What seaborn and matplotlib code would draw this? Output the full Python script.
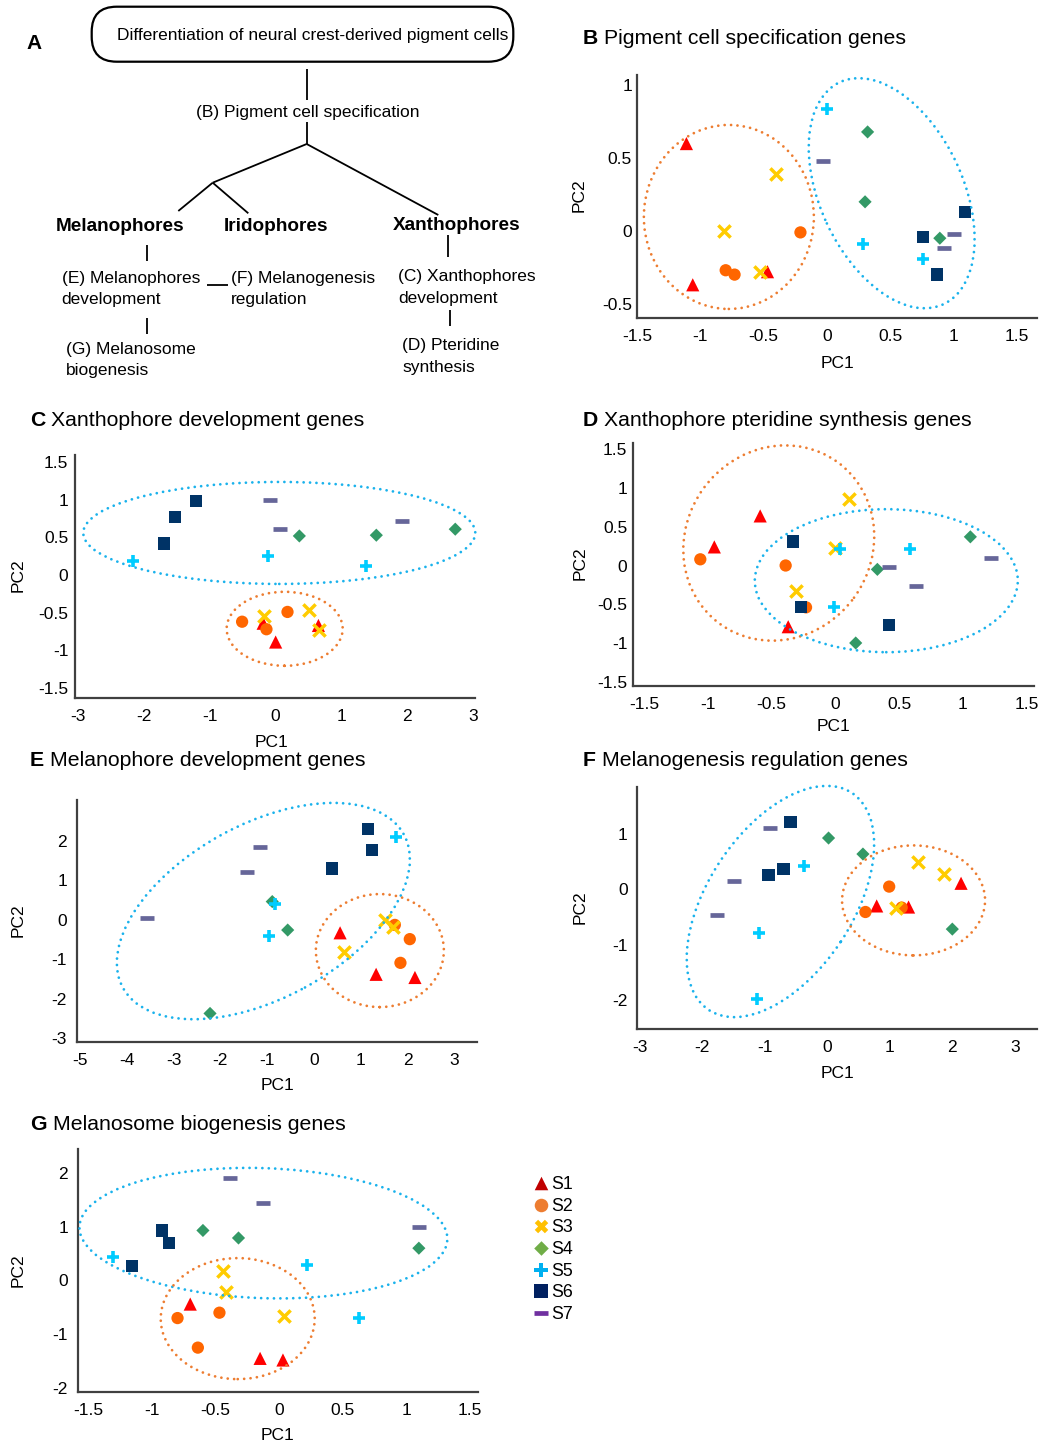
import matplotlib
matplotlib.use("Agg")
import matplotlib.pyplot as plt
import seaborn as sns
import pandas as pd
from matplotlib.patches import Ellipse, FancyBboxPatch
from matplotlib import transforms
from matplotlib.ticker import FixedLocator, FuncFormatter

# ---------------- data ----------------
SAMPLES = ["S1", "S2", "S3", "S4", "S5", "S6", "S7"]
REPS = 3  # three replicates per sample, listed S1..S7

B_PC1 = [-1.11, -1.06, -0.47, -0.80, -0.73, -0.21, -0.40, -0.81, -0.53, 0.32, 0.30, 0.89, 0.00, 0.28, 0.76, 1.09, 0.76, 0.87, -0.03, 1.00, 0.92]
B_PC2 = [0.60, -0.37, -0.28, -0.27, -0.30, -0.01, 0.39, 0.00, -0.28, 0.68, 0.20, -0.05, 0.84, -0.09, -0.19, 0.13, -0.04, -0.30, 0.48, -0.02, -0.12]

C_PC1 = [0.00, -0.19, 0.65, -0.51, -0.14, 0.18, -0.18, 0.51, 0.66, 0.36, 1.53, 2.73, -2.17, -0.11, 1.37, -1.70, -1.53, -1.21, -0.09, 0.06, 1.92]
C_PC2 = [-0.89, -0.64, -0.67, -0.62, -0.72, -0.49, -0.55, -0.47, -0.73, 0.52, 0.53, 0.61, 0.19, 0.25, 0.12, 0.42, 0.77, 0.98, 1.00, 0.61, 0.72]

D_PC1 = [-0.95, -0.59, -0.37, -1.06, -0.39, -0.23, 0.11, 0.00, -0.31, 1.06, 0.33, 0.16, 0.04, 0.59, -0.01, -0.33, -0.27, 0.42, 0.42, 0.63, 1.22]
D_PC2 = [0.24, 0.64, -0.79, 0.08, 0.00, -0.54, 0.86, 0.22, -0.33, 0.37, -0.05, -1.00, 0.21, 0.21, -0.53, 0.31, -0.54, -0.77, -0.02, -0.26, 0.10]

E_PC1 = [0.56, 1.33, 2.16, 1.73, 2.05, 1.85, 1.52, 1.70, 0.65, -0.89, -0.56, -2.22, -0.83, -0.96, 1.75, 1.15, 1.24, 0.38, -3.57, -1.42, -1.15]
E_PC2 = [-0.33, -1.38, -1.46, -0.13, -0.49, -1.09, 0.00, -0.19, -0.82, 0.46, -0.26, -2.37, 0.39, -0.40, 2.10, 2.29, 1.77, 1.30, 0.05, 1.22, 1.84]

F_PC1 = [0.79, 1.30, 2.14, 0.99, 0.61, 1.19, 1.45, 1.86, 1.10, 0.02, 0.57, 2.00, -0.37, -1.10, -1.12, -0.59, -0.70, -0.94, -0.92, -1.49, -1.77]
F_PC2 = [-0.30, -0.32, 0.11, 0.05, -0.41, -0.33, 0.50, 0.28, -0.34, 0.93, 0.64, -0.72, 0.43, -0.79, -1.98, 1.22, 0.37, 0.26, 1.12, 0.15, -0.46]

G_PC1 = [-0.70, -0.15, 0.03, -0.80, -0.47, -0.64, -0.44, -0.42, 0.04, -0.60, -0.32, 1.10, -1.31, 0.22, 0.63, -0.92, -0.87, -1.16, -0.39, -0.13, 1.10]
G_PC2 = [-0.44, -1.45, -1.48, -0.70, -0.60, -1.25, 0.18, -0.21, -0.67, 0.93, 0.79, 0.60, 0.44, 0.29, -0.69, 0.93, 0.69, 0.27, 1.90, 1.45, 1.00]

TITLES = {
    "B": "Pigment cell specification genes",
    "C": "Xanthophore development genes",
    "D": "Xanthophore pteridine synthesis genes",
    "E": "Melanophore development genes",
    "F": "Melanogenesis regulation genes",
    "G": "Melanosome biogenesis genes",
}

# cluster ellipses: centre (data units), width/height (pixels), angle (deg)
ELLIPSES = {
    "B": [(-0.775, 0.096, 170, 184, 0, "orange"), (0.51, 0.259, 245, 143, -65, "cyan")],
    "C": [(0.055, 0.56, 392, 102, 0, "cyan"), (0.137, -0.714, 116, 74, 0, "orange")],
    "D": [(-0.444, 0.29, 200, 186, 54, "orange"), (0.40, -0.196, 263, 143, 0, "cyan")],
    "E": [(-1.08, 0.22, 320, 174, 28.6, "cyan"), (1.41, -0.78, 128, 113, 0, "orange")],
    "F": [(-0.75, -0.22, 260, 145, 56.6, "cyan"), (1.38, -0.20, 143, 110, 0, "orange")],
    "G": [(-0.124, 0.88, 368, 130, -2, "cyan"), (-0.326, -0.71, 154, 121, 0, "orange")],
}

PANEL_DATA = {"B": (B_PC1, B_PC2), "C": (C_PC1, C_PC2), "D": (D_PC1, D_PC2),
              "E": (E_PC1, E_PC2), "F": (F_PC1, F_PC2), "G": (G_PC1, G_PC2)}

rows = []
for p, (xs, ys) in PANEL_DATA.items():
    for i, (x, y) in enumerate(zip(xs, ys)):
        rows.append({"panel": p, "sample": SAMPLES[i // REPS], "PC1": x, "PC2": y})
df = pd.DataFrame(rows)

# ---------------- style ----------------
sns.set_theme(style="white")
plt.rcParams["font.family"] = ["Liberation Sans", "DejaVu Sans"]
plt.rcParams["axes.unicode_minus"] = False
plt.rcParams["text.color"] = "black"

PLOT_COLORS = {"S1": "#FF0000", "S2": "#FF6600", "S3": "#FFCC00", "S4": "#339966",
               "S5": "#00CCFF", "S6": "#003366", "S7": "#666699"}
LEG_COLORS = {"S1": "#C00000", "S2": "#ED7D31", "S3": "#FFC000", "S4": "#70AD47",
              "S5": "#00B0F0", "S6": "#002060", "S7": "#7030A0"}
MARKERS = {"S1": "^", "S2": "o", "S3": "x", "S4": "D", "S5": "+", "S6": "s", "S7": "_"}
SIZES = {"S1": 90, "S2": 78, "S3": 78, "S4": 45, "S5": 85, "S6": 78, "S7": 90}
LWS = {"S3": 2.5, "S5": 2.6, "S7": 3.4}
ELL_COLORS = {"orange": "#ED7D31", "cyan": "#1AB2EC"}

DY = 1.5  # small vertical text correction (px)

FW, FH = 1039, 1443
fig = plt.figure(figsize=(FW / 100, FH / 100), dpi=100)
fig.patch.set_facecolor("white")
ax0 = fig.add_axes([0, 0, 1, 1])
ax0.set_xlim(0, FW)
ax0.set_ylim(FH, 0)
ax0.axis("off")
ax0.set_zorder(0)
renderer = fig.canvas.get_renderer()

# ---------------- panel A (diagram) ----------------
box = FancyBboxPatch((91.7, 6.7), 421.6, 55, boxstyle="round,pad=0,rounding_size=25",
                     fill=False, edgecolor="black", lw=1.6)
ax0.add_patch(box)
ax0.text(34, 42 + DY, "A", fontsize=15, fontweight="bold", ha="center", va="center")
ax0.text(313, 34 + DY, "Differentiation of neural crest-derived pigment cells", fontsize=12.5,
         ha="center", va="center")
ax0.text(307.5, 111.5 + DY, "(B) Pigment cell specification", fontsize=12.5, ha="center", va="center")
segs = [((306.7, 69), (306.7, 100)), ((306.7, 121.7), (306.7, 144)),
        ((306.7, 144), (212.7, 182.7)), ((306.7, 144), (438.3, 215)),
        ((212.7, 182.7), (178.3, 211)), ((212.7, 182.7), (248.3, 213.3)),
        ((146.7, 245), (146.7, 260.7)), ((207, 285), (228.3, 285)),
        ((146.7, 318), (146.7, 334)), ((448.3, 235), (448.3, 257)),
        ((450, 310), (450, 326))]
for (x1, y1), (x2, y2) in segs:
    ax0.plot([x1, x2], [y1, y2], color="black", lw=1.3, solid_capstyle="butt")
ax0.text(120.5, 225 + DY, "Melanophores", fontsize=13.7, fontweight="bold", ha="center", va="center")
ax0.text(224, 225 + DY, "Iridophores", fontsize=13.7, fontweight="bold", ha="left", va="center")
ax0.text(457, 224 + DY, "Xanthophores", fontsize=13.7, fontweight="bold", ha="center", va="center")
for x, y, s in [(61.7, 276.7, "(E) Melanophores"), (61.7, 298.3, "development"),
                (230.7, 276.7, "(F) Melanogenesis"), (230.7, 298.3, "regulation"),
                (66, 347.7, "(G) Melanosome"), (66, 369, "biogenesis"),
                (398.3, 275, "(C) Xanthophores"), (398.3, 296.7, "development"),
                (402.3, 344.3, "(D) Pteridine"), (402.3, 366, "synthesis")]:
    ax0.text(x, y + DY, s, fontsize=12.5, ha="left", va="center")

# ---------------- scatter panels ----------------
# L, T, R, B (px), xlim, ylim, xticks, yticks, ytick pad, title pos, PC1 pos, PC2 pos
PANELS = {
    "B": (637, 75, 1037, 318, (-1.5, 1.657), (-0.598, 1.071),
          [-1.5, -1, -0.5, 0, 0.5, 1, 1.5], [-0.5, 0, 0.5, 1], 3.6,
          (583, 37), (837, 362), (579, 195)),
    "C": (75, 455, 475, 697.7, (-3.05, 3.03), (-1.63, 1.596),
          [-3, -2, -1, 0, 1, 2, 3], [-1.5, -1, -0.5, 0, 0.5, 1, 1.5], 4.8,
          (30, 419.5), (272, 741), (18, 575)),
    "D": (633.3, 443.3, 1034.3, 686, (-1.586, 1.562), (-1.555, 1.577),
          [-1.5, -1, -0.5, 0, 0.5, 1, 1.5], [-1.5, -1, -0.5, 0, 0.5, 1, 1.5], 4.3,
          (583, 419.5), (833, 725), (580, 563)),
    "E": (76.7, 800, 476.7, 1042.3, (-5.07, 3.48), (-3.10, 3.03),
          [-5, -4, -3, -2, -1, 0, 1, 2, 3], [-3, -2, -1, 0, 1, 2], 7.0,
          (30, 759), (277, 1084), (18, 920)),
    "F": (637.3, 786.7, 1037, 1029, (-3.04, 3.355), (-2.53, 1.86),
          [-3, -2, -1, 0, 1, 2, 3], [-2, -1, 0, 1], 6.9,
          (583, 759), (837, 1072), (580, 907)),
    "G": (77.7, 1149.3, 478.3, 1391.7, (-1.586, 1.568), (-2.07, 2.44),
          [-1.5, -1, -0.5, 0, 0.5, 1, 1.5], [-2, -1, 0, 1, 2], 7.0,
          (30, 1123), (278, 1434), (18, 1270)),
}

fmt = FuncFormatter(lambda v, p: f"{v + 0:g}")

for p, (L, T, R, Bt, xl, yl, xt, yt, ypad, tpos, p1, p2) in PANELS.items():
    ax = fig.add_axes([L / FW, 1 - Bt / FH, (R - L) / FW, (Bt - T) / FH])
    ax.set_facecolor("none")
    ax.set_zorder(2)
    sub = df[df["panel"] == p]
    for s in SAMPLES:
        d = sub[sub["sample"] == s]
        m = MARKERS[s]
        if s in LWS:
            sns.scatterplot(data=d, x="PC1", y="PC2", marker=m, color=PLOT_COLORS[s],
                            s=SIZES[s], linewidth=LWS[s], ax=ax, legend=False, zorder=3)
        else:
            sns.scatterplot(data=d, x="PC1", y="PC2", marker=m, color=PLOT_COLORS[s],
                            s=SIZES[s], linewidth=0, edgecolor="none", ax=ax,
                            legend=False, zorder=3)
    ax.set_xlim(*xl)
    ax.set_ylim(*yl)
    ax.xaxis.set_major_locator(FixedLocator(xt))
    ax.yaxis.set_major_locator(FixedLocator(yt))
    ax.xaxis.set_major_formatter(fmt)
    ax.yaxis.set_major_formatter(fmt)
    ax.set_xlabel("")
    ax.set_ylabel("")
    ax.tick_params(axis="x", length=0, pad=7.8, labelsize=12.5, labelcolor="black")
    ax.tick_params(axis="y", length=0, pad=ypad, labelsize=12.5, labelcolor="black")
    for sp in ["top", "right"]:
        ax.spines[sp].set_visible(False)
    for sp in ["left", "bottom"]:
        ax.spines[sp].set_color("#404040")
        ax.spines[sp].set_linewidth(1.6)
    ax.grid(False)
    for (cx, cy, w, h, ang, col) in ELLIPSES[p]:
        tr = fig.dpi_scale_trans + transforms.ScaledTranslation(cx, cy, ax.transData)
        e = Ellipse((0, 0), w / 100, h / 100, angle=ang, transform=tr, fill=False,
                    edgecolor=ELL_COLORS[col], lw=2.0, linestyle=(0, (0.01, 2.3)),
                    capstyle="round", zorder=5, clip_on=False)
        ax.add_patch(e)
    # titles and axis labels
    lt = ax0.text(tpos[0], tpos[1] + DY, p, fontsize=15.3, fontweight="bold",
                  ha="left", va="center")
    bb = lt.get_window_extent(renderer=renderer)
    ax0.text(bb.x1 + 6, tpos[1] + DY, TITLES[p], fontsize=15.3, ha="left", va="center")
    ax0.text(p1[0], p1[1] + DY, "PC1", fontsize=12.5, ha="center", va="center")
    ax0.text(p2[0], p2[1], "PC2", fontsize=12.5, ha="center", va="center", rotation=90)

# ---------------- legend ----------------
LEG_MARKERS = {"S1": "^", "S2": "o", "S3": "X", "S4": "D", "S5": "P", "S6": "s", "S7": "_"}
LEG_SIZES = {"S1": 95, "S2": 95, "S3": 95, "S4": 55, "S5": 100, "S6": 100, "S7": 110}
for i, s in enumerate(SAMPLES):
    y = 1183.3 + i * 21.56
    if s == "S7":
        ax0.scatter([541], [y], marker="_", s=LEG_SIZES[s], color=LEG_COLORS[s], linewidths=3.4)
    else:
        ax0.scatter([541], [y], marker=LEG_MARKERS[s], s=LEG_SIZES[s], color=LEG_COLORS[s],
                    linewidths=0)
    ax0.text(551.5, y + DY, s, fontsize=12.8, ha="left", va="center")

fig.savefig("out.png", dpi=100)
